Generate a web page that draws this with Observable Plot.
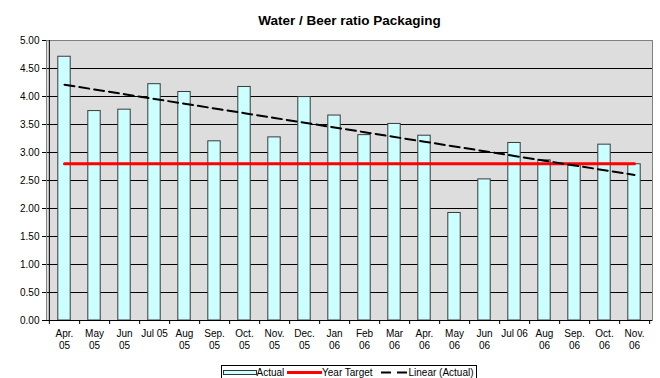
<!DOCTYPE html>
<html><head><meta charset="utf-8">
<script src="https://cdn.jsdelivr.net/npm/d3@7"></script>
<script src="https://cdn.jsdelivr.net/npm/@observablehq/plot@0.6"></script>
<style>
body{margin:0;background:#fff;}
#wrap{position:relative;width:660px;height:378px;overflow:hidden;font-family:"Liberation Sans",Arial,sans-serif;color:#000;}
#title{position:absolute;left:0;width:699px;top:13.6px;text-align:center;font-weight:bold;font-size:13.5px;line-height:13.5px;white-space:nowrap;}
#legend{position:absolute;left:220.5px;top:365px;width:256px;height:16px;border:1px solid #000;background:#fff;box-sizing:border-box;}
.lg{position:absolute;font-size:10px;line-height:10px;white-space:nowrap;top:2.2px;}
.sw{position:absolute;}
</style></head><body><div id="wrap"><div id="title">Water / Beer ratio Packaging</div></div>
<script>
const months = ["Apr.\n05","May\n05","Jun\n05","Jul 05","Aug\n05","Sep.\n05","Oct.\n05","Nov.\n05","Dec.\n05","Jan\n06","Feb\n06","Mar\n06","Apr.\n06","May\n06","Jun\n06","Jul 06","Aug\n06","Sep.\n06","Oct.\n06","Nov.\n06"];
const actual = [4.71,3.74,3.765,4.22,4.08,3.20,4.17,3.27,3.99,3.66,3.31,3.51,3.30,1.92,2.52,3.17,2.86,2.77,3.14,2.79];
const yearTarget = 2.80;
const yTicks = [0,0.5,1,1.5,2,2.5,3,3.5,4,4.5,5];
const seriesNames = ["Actual","Year Target","Linear (Actual)"];

// least-squares trend of the actual series (Excel "Linear" trendline)
const n = actual.length;
const mx = (n - 1) / 2, my = d3.mean(actual);
const slope = d3.sum(actual, (v, i) => (i - mx) * (v - my)) / d3.sum(actual, (v, i) => (i - mx) ** 2);
const icpt = my - slope * mx;

const data = months.map((m, i) => ({month: m, value: actual[i], idx: i}));
const half = (660 - 46 - 8) / months.length / 2;

const chart = Plot.plot({
  width: 660, height: 378,
  marginLeft: 46, marginRight: 8, marginTop: 40, marginBottom: 58,
  style: {fontFamily: '"Liberation Sans", Arial, sans-serif', fontSize: "10px", color: "#000", background: "transparent", overflow: "visible"},
  x: {type: "band", domain: months, padding: 0},
  y: {domain: [0, 5]},
  marks: [
    Plot.frame({fill: "#DDDDDD", stroke: null}),
    Plot.gridY(yTicks.slice(1, -1), {stroke: "#000", strokeOpacity: 1}),
    Plot.barY(data, {x: "month", y: "value", fill: "#CCFFFF", stroke: "#3a3a3a", strokeWidth: 1, insetLeft: 8.8, insetRight: 8.8}),
    Plot.lineY(data, {x: "month", y: () => yearTarget, stroke: "#FF0000", strokeWidth: 3}),
    Plot.lineY(data, {x: "month", y: d => icpt + slope * d.idx, stroke: "#000", strokeWidth: 2, strokeDasharray: "10,5"}),
    Plot.frame({stroke: "#808080"}),
    Plot.ruleY([0], {stroke: "#000"}),
    Plot.ruleX([months[0]], {dx: -half, stroke: "#000", insetBottom: -4}),
    Plot.axisY(yTicks, {tickSize: 4, tickPadding: 3, tickFormat: d3.format(".2f"), label: null, stroke: "#000"}),
    Plot.axisX(months, {tickSize: 4, tickFormat: () => "", dx: half, label: null, stroke: "#000"}),
    Plot.axisX(months, {tickSize: 0, tickPadding: 8, lineHeight: 1.2, label: null})
  ]
});
const wrap = document.getElementById("wrap");
wrap.insertBefore(chart, wrap.firstChild);

// legend
const lg = document.createElement("div");
lg.id = "legend";
lg.innerHTML = `
<svg class="sw" style="left:1px;top:4px" width="34" height="6"><rect x="0.5" y="0.5" width="33" height="4" fill="#CCFFFF" stroke="#333"/></svg>
<div class="lg" style="left:35px">${seriesNames[0]}</div>
<svg class="sw" style="left:65px;top:4px" width="35" height="6"><line x1="0" x2="35" y1="2.5" y2="2.5" stroke="#FF0000" stroke-width="3"/></svg>
<div class="lg" style="left:100.5px">${seriesNames[1]}</div>
<svg class="sw" style="left:159px;top:4px" width="27" height="6"><line x1="0" x2="27" y1="2.5" y2="2.5" stroke="#000" stroke-width="2" stroke-dasharray="10,6"/></svg>
<div class="lg" style="left:187px">${seriesNames[2]}</div>`;
wrap.appendChild(lg);
</script>
</body></html>
